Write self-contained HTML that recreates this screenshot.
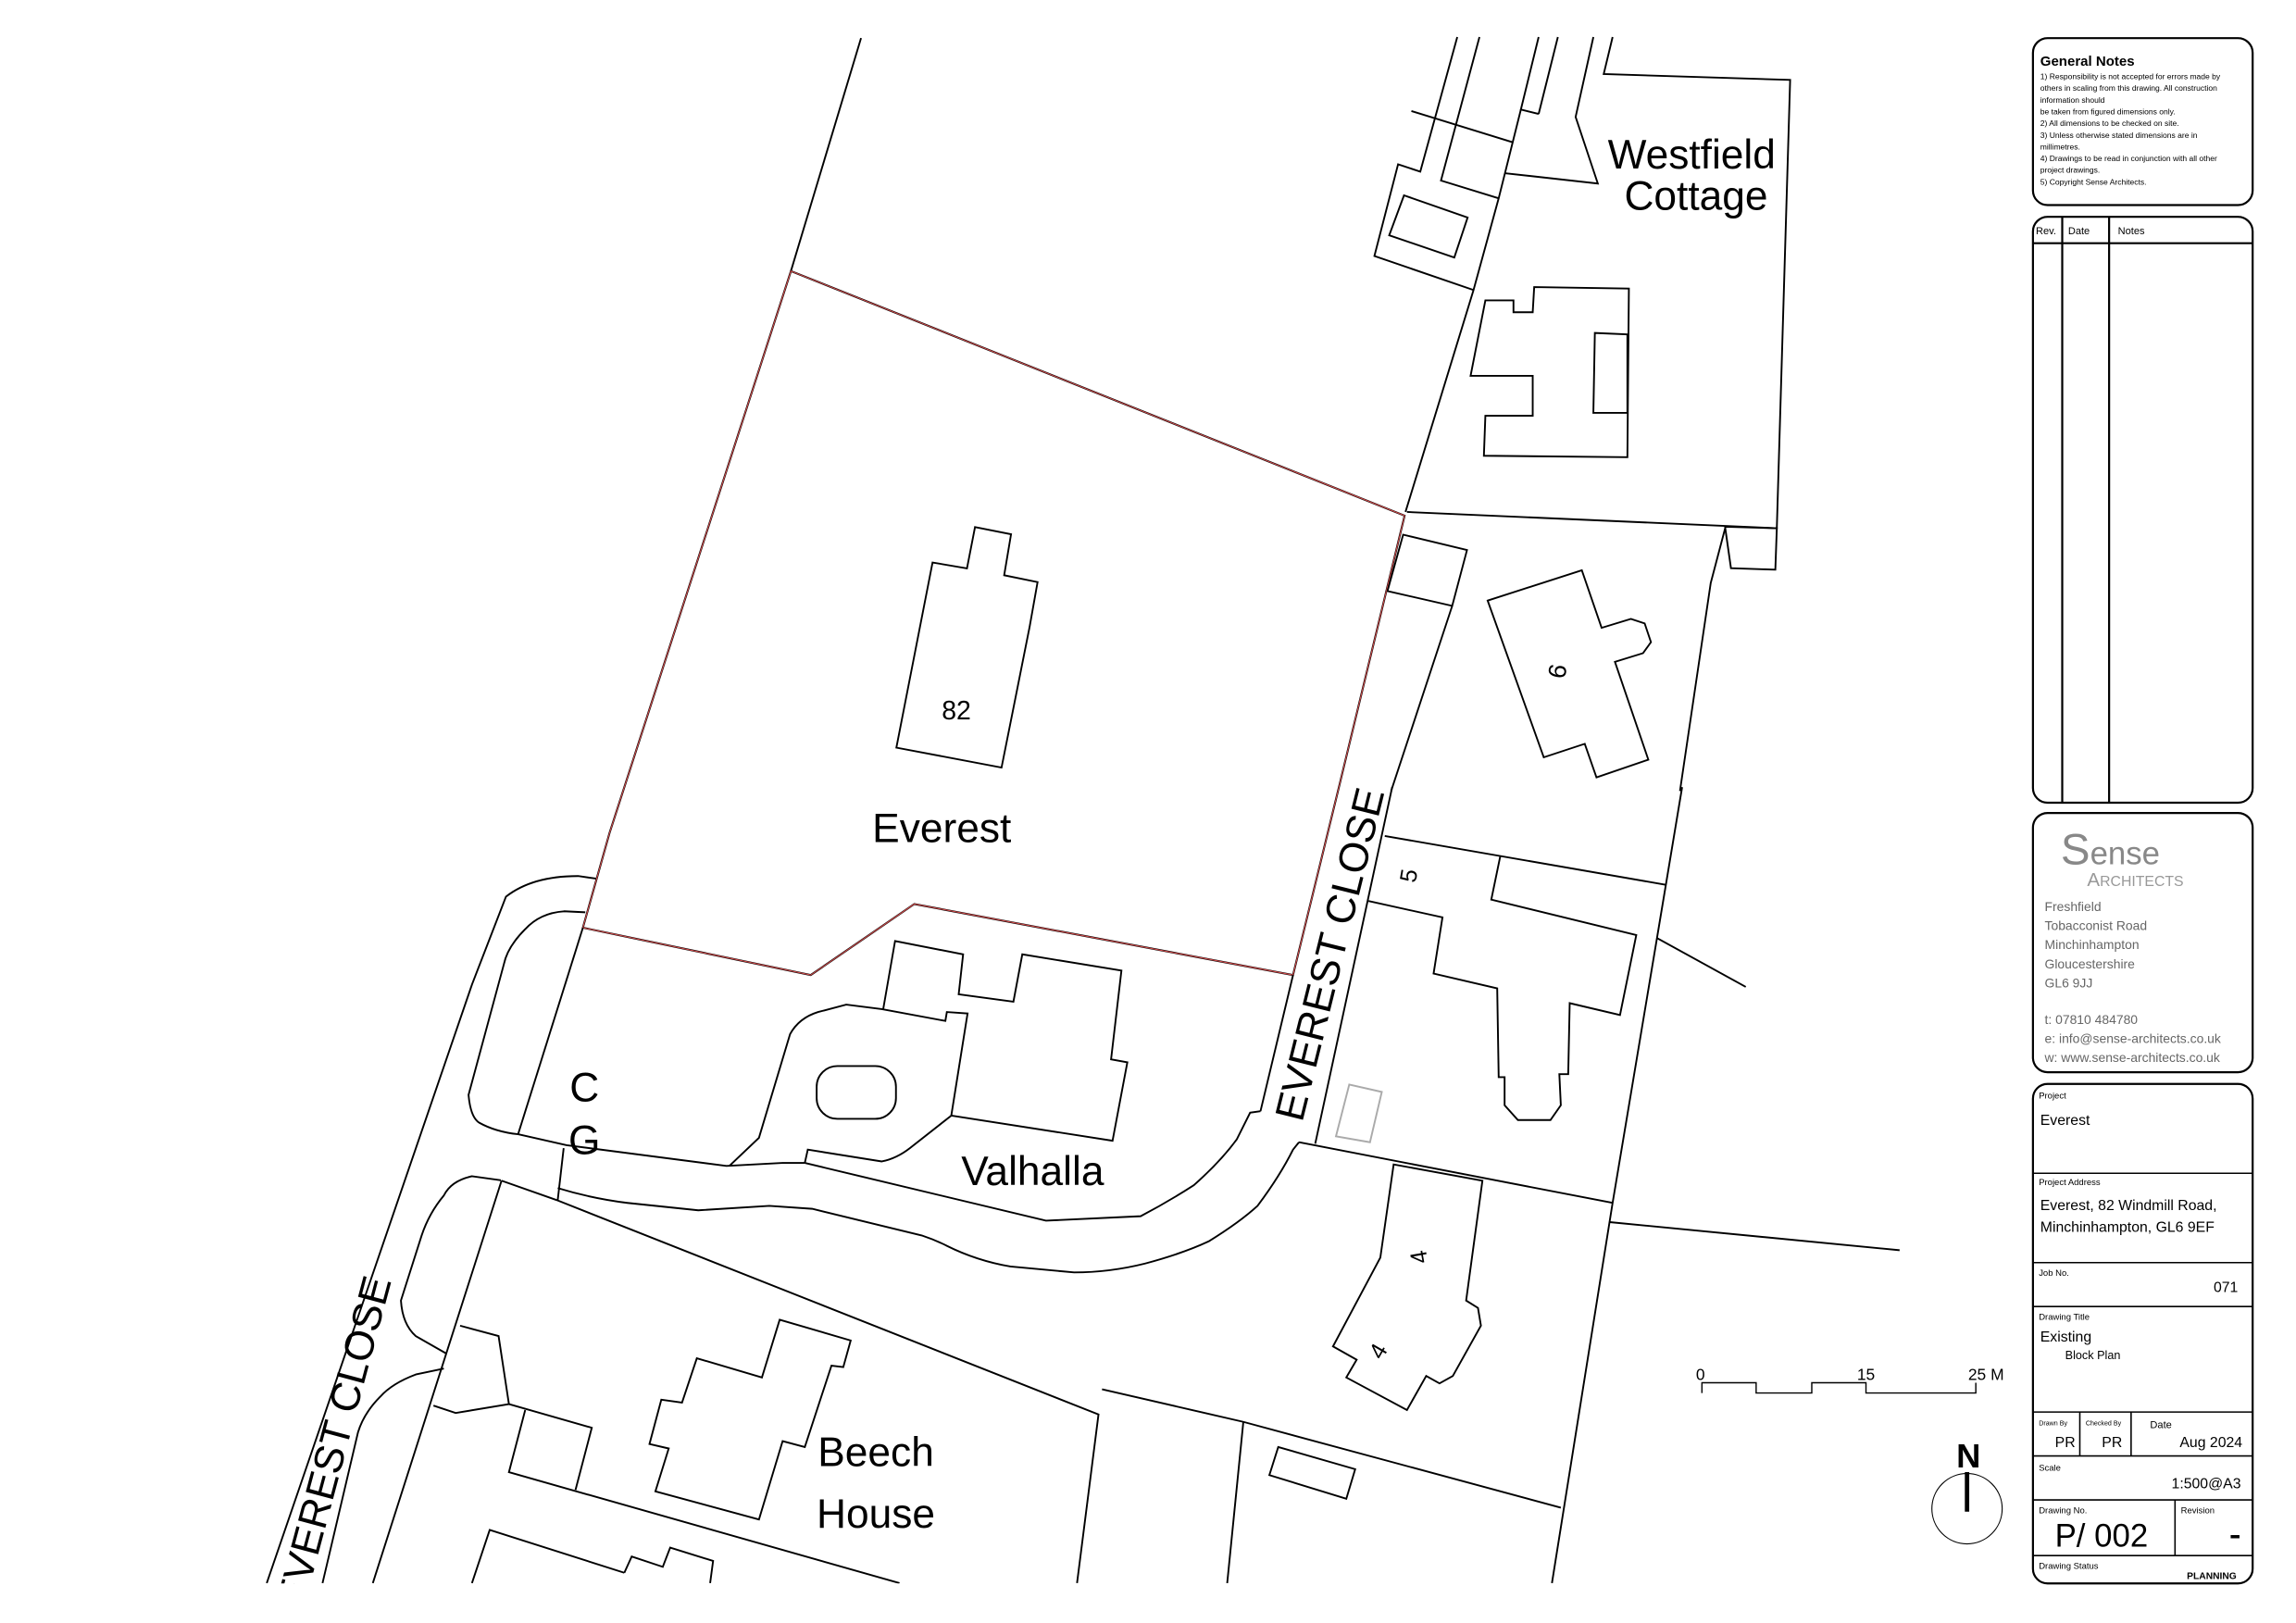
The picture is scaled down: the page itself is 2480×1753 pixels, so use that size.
<!DOCTYPE html>
<html><head><meta charset="utf-8"><style>
html,body{margin:0;padding:0;background:#fff;}
svg{display:block;}
text{font-family:"Liberation Sans",sans-serif;}
</style></head><body>
<svg width="2480" height="1753" viewBox="0 0 1567.6 1108" xmlns="http://www.w3.org/2000/svg">
<defs><clipPath id="mapclip"><rect x="0" y="0" width="1380" height="1081"/></clipPath></defs>
<g clip-path="url(#mapclip)" fill="none" stroke="#000" stroke-width="1.2" stroke-linejoin="miter">
<g transform="scale(1.0101)">
<polyline points="985,25 960,116 945,111 929,173 996,196"/>
<polyline points="1000,25 974,122 1013,134"/>
<polyline points="1040,25 1028,74 1040,77"/>
<line x1="1053" y1="25" x2="1040" y2="77"/>
<polyline points="1077,25 1065,79 1080,124 1017,117"/>
<polyline points="1090,25 1084,50 1210,54 1201,357 951,346"/>
<polyline points="1028,74 1013,134 996,196 950,346"/>
<line x1="954" y1="75" x2="1022" y2="96"/>
<polygon points="949,132 992,147 983,174 939,159"/>
<polygon points="1037,194 1101,195 1100,309 1003,308 1004,281 1036,281 1036,254 994,254 1004,203 1023,203 1023,211 1036,211"/>
<polygon points="1078,225 1100,226 1100,279 1077,279"/>
<polyline points="1166,356 1201,357 1200,385 1170,384 1166,356"/>
<polyline points="1137,532 1126,598 1120,634 1090,813 1049,1070"/>
<line x1="582" y1="25.7" x2="534.6" y2="183.2"/>
<polygon points="534.6,183.2 949.4,348.5 905,532 874,659 618,611 548,659 394,627 412,563" stroke="#000" stroke-width="1.3"/>
<polygon points="534.6,183.2 949.4,348.5 905,532 874,659 618,611 548,659 394,627 412,563" stroke="#e05050" stroke-width="0.6"/>
<line x1="874" y1="659" x2="852" y2="751"/>
<line x1="394" y1="627" x2="350.2" y2="766.6"/>
<path d="M402.8,593.8 L390.8,592.1 Q360,592 342,606 L319.1,665.2 L180.3,1070"/>
<path d="M395.6,616.6 L381.3,615.9 Q365,617 355,628 Q343,640 340.6,651.6 L316.7,740 Q318,755 323.9,758.8 Q335,765 350.2,766.6"/>
<polyline points="350.2,766.6 383,774 491,788 529,786 544,786"/>
<line x1="381" y1="776" x2="377" y2="811"/>
<path d="M338.6,797.7 L319,795 Q305,798 300,808 Q290,820 285,835 L271,879 Q272,895 281,903 L302,915"/>
<path d="M300,925 L281,929 Q265,935 257,944 Q246,955 242,968 L218,1070"/>
<line x1="339" y1="798" x2="252" y2="1070"/>
<polyline points="339,798 376,811 742.5,956 728,1070"/>
<polyline points="744.9,939 840.4,961 1055,1019"/>
<line x1="840.4" y1="961" x2="829.5" y2="1070"/>
<polygon points="527,892 575,906 570,924 562,923 544,978 529,974 513,1027 443,1008 452,979 439,976 447,946 461,948 471,918 515,931"/>
<polyline points="293,950 308,955 344,949 337,903 311,896"/>
<polyline points="344,949 400,965 389,1007"/>
<polyline points="355,953 344,995 608,1070"/>
<polyline points="319,1070 331,1034 422,1063"/>
<polyline points="422,1063 427,1052 448,1059 453,1046 482,1055 480,1070"/>
<path d="M493,788 L513,769 L534,699 Q540,688 553,684 L572,679 L596,682 L639,690 L640,684 L654,685 L643,754"/>
<polyline points="643,754 752,771 762,718 751,716 758,656 691,645 685,677 648,672 651,645 605,636 597,682"/>
<path d="M544,786 L546,777 L596,785 Q606,783 615,776 L643,754"/>
<path d="M544,786 L707,825 L771,822 Q790,812 807,801 Q825,785 836,770 L845,752 L852,751"/>
<rect x="552" y="720.5" width="53.6" height="35.7" rx="14" ry="14"/>
<path d="M377,803 Q400,810 424,813 L472,818 L520,815 L549,817 L623,835 Q632,838 640,842 Q660,852 683,856 L726,860 Q750,860 774,854 Q800,847 817,839 Q838,826 850,815 Q865,795 874,777 L878,772"/>
<line x1="878" y1="772" x2="1090" y2="813"/>
<line x1="941" y1="532" x2="889" y2="773"/>
<line x1="936" y1="565" x2="1126" y2="598"/>
<polyline points="925,609 975,620 969,658 1012,668 1013,728 1017,728 1017,747 1026,757 1048,757 1055,747 1054,726 1060,726 1061,678 1095,686 1106,632 1008,608 1014,579"/>
<line x1="1120" y1="634" x2="1180" y2="667"/>
<line x1="1088" y1="826" x2="1284" y2="845"/>
<polygon points="912,733 934,738 926,772 903,768" stroke="#aaa"/>
<polygon points="942,787 933,850 901,910 917,919 910,931 951,953 964,930 973,935 982,930 1001,896 999,884 991,879 1002,798"/>
<polygon points="864,978 916,993 910,1013 858,997"/>
</g>
<polygon points="665.7,359.8 690.3,364.7 685.6,392.7 708.4,397.4 703,427.8 691,488 683.8,524 612,510.4 636.7,384 660.2,388"/>
<polygon points="958,365 1001.6,375.5 991.5,413.6 947.3,403.5"/>
<line x1="991.5" y1="413.6" x2="949.8" y2="540"/>
<polygon points="1015.7,410 1080,389.3 1093.5,428.6 1113.5,422.5 1122.9,425.6 1127.2,438.4 1121.8,445.9 1102.6,451.8 1125.4,518.6 1090,530.7 1082,507.8 1054,517"/>
<polyline points="1178,360 1168,398 1147,540"/>
</g>
<g fill="#000">
<text x="1155" y="115" font-size="28" text-anchor="middle">Westfield</text>
<text x="1158" y="143" font-size="28" text-anchor="middle">Cottage</text>
<text x="653" y="491" font-size="18" text-anchor="middle">82</text>
<text x="643" y="575" font-size="28" text-anchor="middle">Everest</text>
<text transform="translate(1062,458) rotate(100)" font-size="17" text-anchor="middle" dominant-baseline="middle">9</text>
<text transform="translate(910,652) rotate(-76)" font-size="28" text-anchor="middle" dominant-baseline="middle">EVEREST CLOSE</text>
<text transform="translate(963,598) rotate(-80)" font-size="16" text-anchor="middle" dominant-baseline="middle">5</text>
<text x="399" y="752" font-size="28" text-anchor="middle">C</text>
<text x="399" y="788" font-size="28" text-anchor="middle">G</text>
<text x="705" y="809" font-size="28" text-anchor="middle">Valhalla</text>
<text transform="translate(970,858) rotate(-100)" font-size="16" text-anchor="middle" dominant-baseline="middle">4</text>
<text transform="translate(942,923) rotate(-60)" font-size="16" text-anchor="middle" dominant-baseline="middle">4</text>
<g clip-path="url(#mapclip)"><text transform="translate(230,985) rotate(-75)" font-size="28" text-anchor="middle" dominant-baseline="middle">EVEREST CLOSE</text></g>
<text x="598" y="1001" font-size="28" text-anchor="middle">Beech</text>
<text x="598" y="1043" font-size="28" text-anchor="middle">House</text>
<text x="1161" y="942" font-size="11" text-anchor="middle">0</text>
<text x="1274" y="942" font-size="11" text-anchor="middle">15</text>
<text x="1356" y="942" font-size="11" text-anchor="middle">25 M</text>
<text x="1344" y="1002" font-size="23" font-weight="bold" text-anchor="middle">N</text>
</g>
<polyline points="1162,951 1162,944 1199,944 1199,951 1237,951 1237,944 1274,944 1274,951 1349,951 1349,944" fill="none" stroke="#000" stroke-width="0.9"/>
<circle cx="1343" cy="1030" r="24" fill="none" stroke="#000" stroke-width="0.7"/>
<line x1="1343" y1="1005" x2="1343" y2="1032" stroke="#000" stroke-width="3"/>
<g fill="none" stroke="#000" stroke-width="1.4">
<rect x="1388" y="26" width="150" height="114" rx="10"/>
<rect x="1388" y="148" width="150" height="400" rx="10"/>
<line x1="1388" y1="166" x2="1538" y2="166"/>
<line x1="1408" y1="148" x2="1408" y2="548"/>
<line x1="1440" y1="148" x2="1440" y2="548"/>
<rect x="1388" y="555" width="150" height="177" rx="10"/>
<rect x="1388" y="740" width="150" height="341" rx="10"/>
<line x1="1388" y1="801" x2="1538" y2="801" stroke-width="1"/>
<line x1="1388" y1="862" x2="1538" y2="862" stroke-width="1"/>
<line x1="1388" y1="892" x2="1538" y2="892" stroke-width="1"/>
<line x1="1388" y1="964" x2="1538" y2="964" stroke-width="1"/>
<line x1="1420" y1="964" x2="1420" y2="994" stroke-width="1"/>
<line x1="1455" y1="964" x2="1455" y2="994" stroke-width="1"/>
<line x1="1388" y1="994" x2="1538" y2="994" stroke-width="1"/>
<line x1="1388" y1="1024" x2="1538" y2="1024" stroke-width="1"/>
<line x1="1485" y1="1024" x2="1485" y2="1062" stroke-width="1"/>
<line x1="1388" y1="1062" x2="1538" y2="1062" stroke-width="1"/>
</g>
<g fill="#000">
<text x="1393" y="45" font-size="9.5" font-weight="bold">General Notes</text>
<g font-size="5.4">
<text x="1393" y="54">1) Responsibility is not accepted for errors made by</text>
<text x="1393" y="62">others in scaling from this drawing. All construction</text>
<text x="1393" y="70">information should</text>
<text x="1393" y="78">be taken from figured dimensions only.</text>
<text x="1393" y="86">2) All dimensions to be checked on site.</text>
<text x="1393" y="94">3) Unless otherwise stated dimensions are in</text>
<text x="1393" y="102">millimetres.</text>
<text x="1393" y="110">4) Drawings to be read in conjunction with all other</text>
<text x="1393" y="118">project drawings.</text>
<text x="1393" y="126">5) Copyright Sense Architects.</text>
</g>
<text x="1390" y="160" font-size="7">Rev.</text>
<text x="1412" y="160" font-size="7">Date</text>
<text x="1446" y="160" font-size="7">Notes</text>
<text x="1407" y="590" font-size="30" fill="#888" font-family="Liberation Serif,serif">S<tspan font-size="22">ense</tspan></text>
<text x="1425" y="605" font-size="13" fill="#999" font-family="Liberation Serif,serif">A<tspan font-size="10">RCHITECTS</tspan></text>
<g font-size="8.8" fill="#666">
<text x="1396" y="622">Freshfield</text>
<text x="1396" y="635">Tobacconist Road</text>
<text x="1396" y="648">Minchinhampton</text>
<text x="1396" y="661">Gloucestershire</text>
<text x="1396" y="674">GL6 9JJ</text>
<text x="1396" y="699">t:  07810 484780</text>
<text x="1396" y="712">e: info@sense-architects.co.uk</text>
<text x="1396" y="725">w: www.sense-architects.co.uk</text>
</g>
<text x="1392" y="750" font-size="6">Project</text>
<text x="1393" y="768" font-size="10">Everest</text>
<text x="1392" y="809" font-size="6">Project Address</text>
<text x="1393" y="826" font-size="10">Everest, 82 Windmill Road,</text>
<text x="1393" y="841" font-size="10">Minchinhampton, GL6 9EF</text>
<text x="1392" y="871" font-size="6">Job No.</text>
<text x="1528" y="882" font-size="10" text-anchor="end">071</text>
<text x="1392" y="901" font-size="6">Drawing Title</text>
<text x="1393" y="916" font-size="10">Existing</text>
<text x="1410" y="928" font-size="8">Block Plan</text>
<text x="1392" y="973" font-size="4.5">Drawn By</text>
<text x="1424" y="973" font-size="4.5">Checked By</text>
<text x="1468" y="975" font-size="7">Date</text>
<text x="1410" y="988" font-size="10" text-anchor="middle">PR</text>
<text x="1442" y="988" font-size="10" text-anchor="middle">PR</text>
<text x="1531" y="988" font-size="10" text-anchor="end">Aug 2024</text>
<text x="1392" y="1004" font-size="6">Scale</text>
<text x="1530" y="1016" font-size="10" text-anchor="end">1:500@A3</text>
<text x="1392" y="1033" font-size="6">Drawing No.</text>
<text x="1489" y="1033" font-size="6">Revision</text>
<text x="1403" y="1056" font-size="22">P/ 002</text>
<rect x="1523" y="1048" width="6" height="2.2"/>
<text x="1392" y="1071" font-size="6">Drawing Status</text>
<text x="1527" y="1078" font-size="6.5" font-weight="bold" text-anchor="end">PLANNING</text>
</g>
</svg>
</body></html>
